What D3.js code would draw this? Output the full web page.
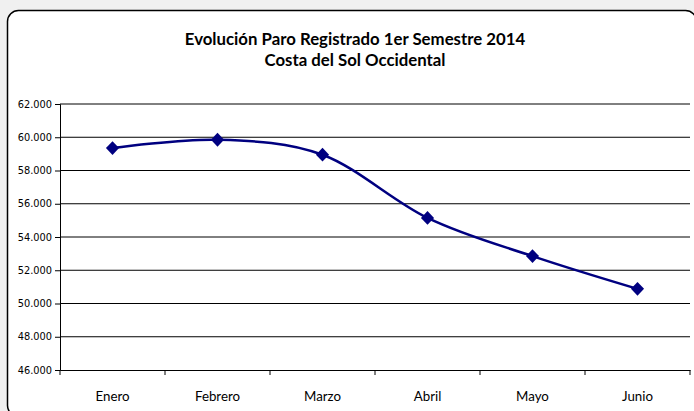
<!DOCTYPE html>
<html><head><meta charset="utf-8">
<script src="https://cdn.jsdelivr.net/npm/d3@7"></script>
<style>
html,body{margin:0;padding:0;background:#f0f0f0;}
svg{display:block;}
</style></head>
<body>
<svg id="chart" width="694" height="411"></svg>
<script>
const months = ["Enero","Febrero","Marzo","Abril","Mayo","Junio"];
const paro = [59350, 59850, 58950, 55150, 52850, 50880];
const yTicks = [46000,48000,50000,52000,54000,56000,58000,60000,62000];
const titleLines = ["Evolución Paro Registrado 1er Semestre 2014","Costa del Sol Occidental"];

(function(){
const svg = d3.select("#chart");
svg.append("rect").attr("x",0).attr("y",0).attr("width",694).attr("height",411).attr("fill","#f0f0f0");
svg.append("rect").attr("x",7.5).attr("y",10.5).attr("width",689).attr("height",406)
  .attr("rx",11).attr("ry",11).attr("fill","#ffffff").attr("stroke","#000").attr("stroke-width",1.5);

const pL=60, pR=690, pT=104, pB=370;
const x = d3.scaleBand().domain(months).range([pL,pR]);
const y = d3.scaleLinear().domain([46000,62000]).range([pB,pT]);

svg.append("g").selectAll("line").data(yTicks.filter(d=>d>46000)).join("line")
  .attr("x1",pL).attr("x2",pR).attr("y1",d=>y(d)).attr("y2",d=>y(d))
  .attr("stroke","#000").attr("stroke-width",1);

const yAxis = d3.axisLeft(y).tickValues(yTicks).tickSize(5).tickFormat(d=>(d/1000).toFixed(3));
const gy = svg.append("g").attr("transform",`translate(${pL},0)`).call(yAxis);
gy.select(".domain").attr("stroke","#000");
gy.selectAll(".tick line").attr("stroke","#000");
gy.selectAll("text").attr("font-family","DejaVu Sans").attr("font-size","9.8px").attr("fill","#000").attr("x",-8);

const xAxis = d3.axisBottom(x).tickSize(0).tickFormat(d=>d);
const gx = svg.append("g").attr("transform",`translate(0,${pB})`).call(xAxis);
gx.select(".domain").attr("stroke","#000");
gx.selectAll("text").attr("font-family","Lato").attr("font-size","13.3px").attr("fill","#000").attr("dy","0").attr("y",31);
const bounds = months.map(m=>x(m)).concat([pR]);
gx.append("g").selectAll("line").data(bounds).join("line")
  .attr("x1",d=>d).attr("x2",d=>d).attr("y1",0).attr("y2",5).attr("stroke","#000");

const cx = d => x(d)+x.bandwidth()/2;
const line = d3.line().x((d,i)=>cx(months[i])).y(d=>y(d)).curve(d3.curveCatmullRom.alpha(0));
svg.append("path").datum(paro).attr("d",line).attr("fill","none")
  .attr("stroke","#000080").attr("stroke-width",2.5);
svg.append("g").selectAll("path").data(paro).join("path")
  .attr("d",d3.symbol().type(d3.symbolDiamond).size(55))
  .attr("transform",(d,i)=>`translate(${cx(months[i])},${y(d)}) scale(1.65,1)`)
  .attr("fill","#000080");

svg.append("g").selectAll("text").data(titleLines).join("text")
  .attr("x",355).attr("y",(d,i)=>45+i*21).attr("text-anchor","middle")
  .attr("font-family","Lato").attr("font-weight","bold").attr("font-size","16.8px").attr("fill","#000")
  .text(d=>d);
})();
</script>
</body></html>
